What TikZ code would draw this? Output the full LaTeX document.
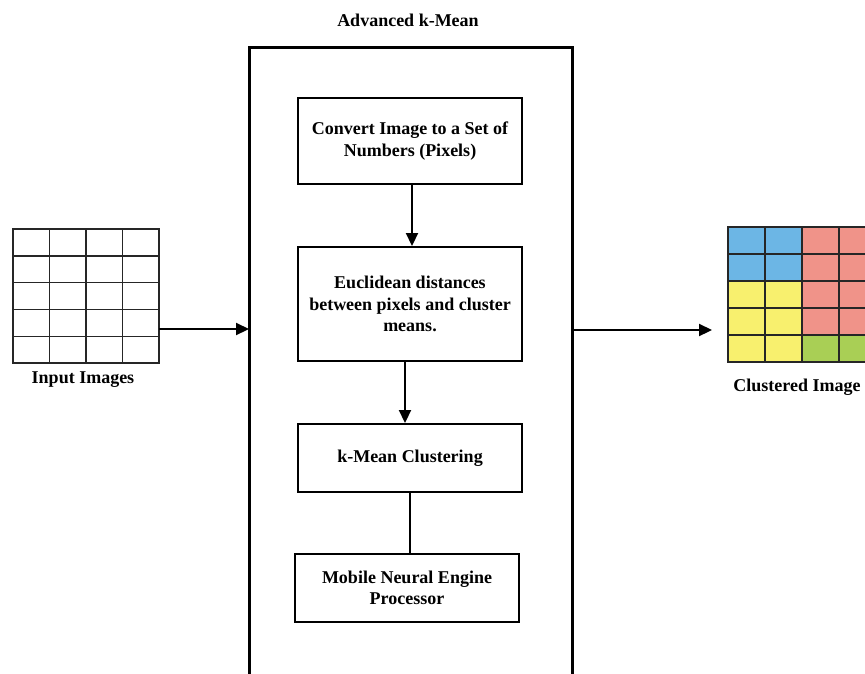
\documentclass[tikz,border=0pt]{standalone}
\usepackage{fontspec}
\setmainfont{Liberation Serif}
\usetikzlibrary{arrows.meta}
\definecolor{cblue}{RGB}{108,182,229}
\definecolor{cpink}{RGB}{240,147,137}
\definecolor{cyellow}{RGB}{248,240,110}
\definecolor{cgreen}{RGB}{169,207,85}
\tikzset{
  procbox/.style={draw, line width=2pt, align=center, inner sep=0pt,
    font=\fontsize{18}{21.5}\selectfont\bfseries},
  lbl/.style={font=\fontsize{18}{21.5}\selectfont\bfseries, inner sep=0pt},
  conn/.style={line width=2.2pt, -{Triangle[length=13pt,width=12pt]}},
  plain/.style={line width=2.2pt},
  gridline/.style={line width=1.4pt, draw=black!85}
}
\begin{document}
\begin{tikzpicture}[x=1pt,y=-1pt]
\useasboundingbox (0,0) rectangle (865,673);
% title and outer frame
\node[lbl] (title) at (408,20) {Advanced k-Mean};
\draw[line width=3pt] (249,690) -- (249,47) -- (572,47) -- (572,690);
\coordinate (inL) at (249,329);
\coordinate (outR) at (572,330);
% process boxes
\node[procbox, minimum width=224pt, minimum height=86pt] (b1) at (410,141)
  {Convert Image to a Set of\\Numbers (Pixels)};
\node[procbox, minimum width=224pt, minimum height=114pt] (b2) at (410,304)
  {Euclidean distances\\between pixels and cluster\\means.};
\node[procbox, minimum width=224pt, minimum height=68pt] (b3) at (410,458)
  {k-Mean Clustering};
\node[procbox, minimum width=224pt, minimum height=68pt] (b4) at (407,588)
  {Mobile Neural Engine\\Processor};
\draw[conn] (b1.south -| 412,0) -- (b2.north -| 412,0);
\draw[conn] (b2.south -| 405,0) -- (b3.north -| 405,0);
\draw[plain] (b3.south -| 410,0) -- (b4.north -| 410,0);
% input grid
\coordinate (ingrid) at (86,296);
\draw[gridline] (13,229) rectangle (159,363);
\foreach \i in {1,2,3} \draw[gridline] ({13+\i*36.5},229) -- ({13+\i*36.5},363);
\foreach \j in {1,2,3,4} \draw[gridline] (13,{229+\j*26.8}) -- (159,{229+\j*26.8});
\coordinate (inE) at (159,329);
\draw[conn] (inE) -- (inL);
\node[lbl] (inlbl) at (83,380) {Input Images};
% clustered grid
\fill[cblue] (728,227) rectangle (802,281);
\fill[cpink] (802,227) rectangle (876,335);
\fill[cyellow] (728,281) rectangle (802,362);
\fill[cgreen] (802,335) rectangle (876,362);
\draw[gridline] (728,227) rectangle (876,362);
\foreach \i in {1,2,3} \draw[gridline] ({728+\i*37},227) -- ({728+\i*37},362);
\foreach \j in {1,2,3,4} \draw[gridline] (728,{227+\j*27}) -- (876,{227+\j*27});
\coordinate (outE) at (712,330);
\draw[conn] (outR) -- (outE);
\node[lbl] (outlbl) at (797,387) {Clustered Image};
\end{tikzpicture}
\end{document}
